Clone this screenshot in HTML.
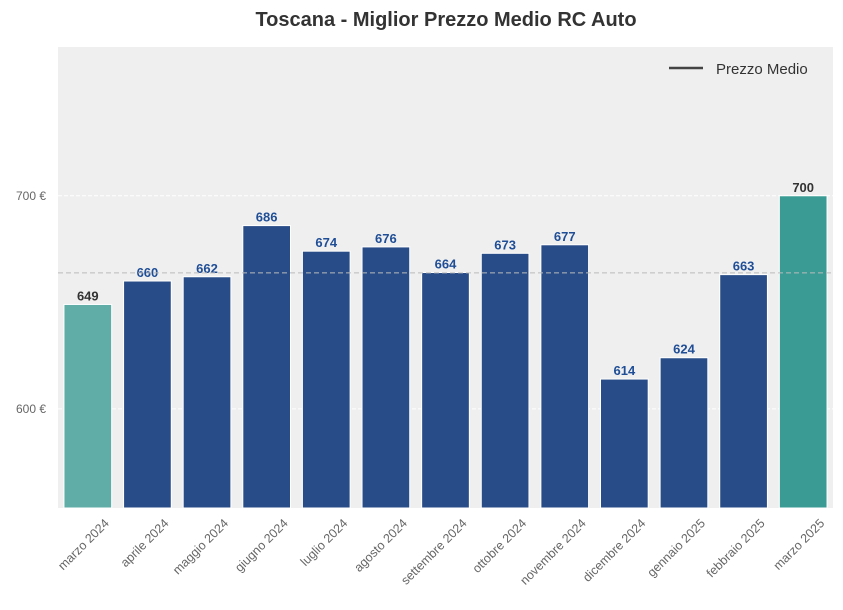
<!DOCTYPE html>
<html><head><meta charset="utf-8"><style>
body{margin:0;background:#fff;font-family:"Liberation Sans",Arial,sans-serif}
svg{display:block}
</style></head><body>
<svg id="chart" width="843" height="610">
<text x="446" y="26" text-anchor="middle" font-size="20" font-weight="bold" fill="#333">Toscana - Miglior Prezzo Medio RC Auto</text>
<rect x="58" y="47" width="775" height="461" fill="#efefef"/>
<g id="grid"></g><g id="bars"></g><g id="labels"></g><g id="xt"></g><g id="yt"></g>
<g>
<line x1="669" y1="68" x2="703" y2="68" stroke="#444" stroke-width="2.5"/>
<text x="716" y="74" font-size="15" fill="#333">Prezzo Medio</text>
</g>
</svg>
<script>
const categories=["marzo 2024","aprile 2024","maggio 2024","giugno 2024","luglio 2024","agosto 2024","settembre 2024","ottobre 2024","novembre 2024","dicembre 2024","gennaio 2025","febbraio 2025","marzo 2025"];
const values=[649,660,662,686,674,676,664,673,677,614,624,663,700];
const yTicks=[600,700];
const average=663.8;
const NS="http://www.w3.org/2000/svg";
const X0=58,W=775,Y0=47,H=461,YMIN=553.5,YMAX=769.8;
const step=W/categories.length,bw=step*0.8;
const y=v=>Y0+H-(v-YMIN)/(YMAX-YMIN)*H;
const x=i=>X0+step*i+step/2;
function mk(tag,attrs,parent){const e=document.createElementNS(NS,tag);for(const k in attrs)e.setAttribute(k,attrs[k]);document.getElementById(parent).appendChild(e);return e;}
yTicks.forEach(t=>{
 const g=mk('line',{x1:X0,x2:X0+W,y1:y(t),y2:y(t),stroke:'#fff','stroke-width':1,'stroke-dasharray':'4,2'},'grid');
 
 
 const l=mk('text',{x:X0-12,y:y(t)+4,'text-anchor':'end','font-size':12,fill:'#666'},'yt');
 l.textContent=t+' €';
 
 
});
values.forEach((v,i)=>{
 const last=i===values.length-1,first=i===0;
 const fill=first?'#5fada6':last?'#3a9b94':'#284c87';
 const r=mk('rect',{x:x(i)-bw/2,y:y(v),width:bw,height:Y0+H-y(v),fill:fill,stroke:'#fff','stroke-width':1},'bars');
 
 
 const t=mk('text',{x:x(i),y:y(v)-4,'text-anchor':'middle','font-size':13,'font-weight':'bold',fill:(first||last)?'#333':'#1f4e96'},'labels');
 t.textContent=v;
 
 
 const cx=x(i)+22,cy=Y0+H+16;
 const c=mk('text',{x:cx,y:cy,'text-anchor':'end','font-size':12.5,fill:'#666',transform:`rotate(-45 ${cx} ${cy})`},'xt');
 c.textContent=categories[i];
 
 
});
const a=mk('line',{x1:X0,x2:X0+W,y1:y(average),y2:y(average),stroke:'#bbb','stroke-width':1,'stroke-dasharray':'5,3'},'labels');


</script>
</body></html>
